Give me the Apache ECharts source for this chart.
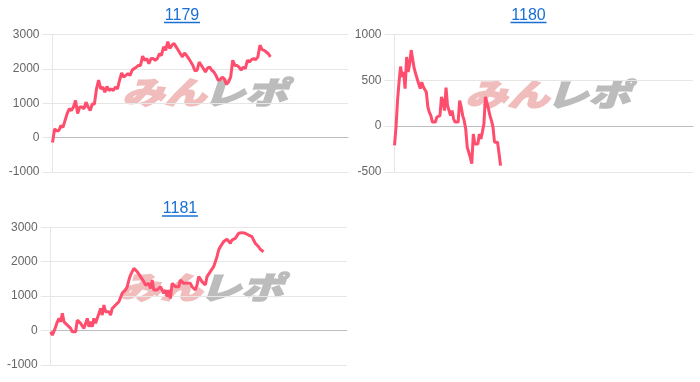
<!DOCTYPE html>
<html>
<head>
<meta charset="utf-8">
<script src="https://cdn.jsdelivr.net/npm/echarts@6/dist/echarts.min.js"></script>
<style>
html,body{margin:0;padding:0;background:#fff;}
#c{width:700px;height:382px;}
</style>
</head>
<body>
<div id="c"></div>
<script>
// ---- data ----
var titles = ['1179', '1180', '1181'];

var values1179 = [-140, 250, 200, 200, 350, 300, 500, 700, 840, 790,
  890, 1080, 700, 890, 890, 840, 1030, 890, 790, 980,
  980, 1420, 1670, 1420, 1470, 1320, 1490, 1370, 1420, 1370,
  1470, 1420, 1670, 1880, 1760, 1810, 1860, 1810, 1960, 2010,
  2050, 2100, 2100, 2370, 2250, 2300, 2150, 2300, 2300, 2250,
  2300, 2440, 2390, 2640, 2540, 2790, 2590, 2690, 2740, 2640,
  2540, 2440, 2350, 2460, 2390, 2300, 2200, 2100, 1940, 1960,
  2200, 2100, 2010, 1910, 2030, 2050, 1960, 1910, 1810, 1670,
  1690, 1760, 1710, 1550, 1620, 1760, 2250, 2100, 2100, 2050,
  1960, 2050, 2010, 2250, 2200, 2270, 2300, 2270, 2350, 2690,
  2560, 2540, 2490, 2440, 2350];

var values1180 = [-210, -10, 280, 480, 650, 540, 590, 410, 755, 590,
  680, 830, 830, 630, 570, 550, 460, 410, 480, 430,
  420, 370, 210, 150, 115, 45, 45, 45, 100, 100,
  115, 320, 260, 170, 420, 225, 170, 115, 170, 80,
  45, 45, 45, 280, 210, 115, 60, -30, -230, -285,
  -340, -410, -85, -195, -175, -195, -85, -140, -65, 25,
  320, 260, 190, 115, 60, -10, -175, -175, -175, -300,
  -430];

var values1181 = [-40, -135, -185, 105, 250, 350, 250, 495, 250, 205,
  155, 105, 60, -40, -85, -40, 300, 250, 205, 155,
  60, 60, 350, 105, 250, 105, 350, 205, 350, 495,
  640, 445, 740, 545, 495, 545, 445, 640, 690, 740,
  690, 835, 785, 1080, 1030, 1175, 1270, 1465, 1610, 1660,
  1805, 1855, 1710, 1660, 1565, 1565, 1420, 1320, 1270, 1370,
  1220, 1465, 1175, 1220, 1175, 1125, 1270, 1175, 1080, 1175,
  980, 1175, 930, 1370, 1420, 1270, 1270, 1270, 1465, 1420,
  1370, 1370, 1370, 1370, 1370, 1270, 1220, 1175, 1320, 1565,
  1515, 1420, 1465, 1320, 1565, 1610, 1710, 1760, 1855, 2000,
  2145, 2340, 2435, 2485, 2585, 2630, 2650, 2630, 2535, 2630,
  2630, 2680, 2730, 2825, 2775, 2845, 2900, 2825, 2845, 2775,
  2775, 2730, 2630, 2535, 2485, 2435, 2360, 2320, 2290];

var yTicks1179 = [-1000, 0, 1000, 2000, 3000];
var yTicks1180 = [-500, 0, 500, 1000];
var yTicks1181 = [-1000, 0, 1000, 2000, 3000];

// ---- layout / style ----
var allValues = [values1179, values1180, values1181];
var allTicks = [yTicks1179, yTicks1180, yTicks1181];
var grids = [
  {left: 52.5, top: 34.5, width: 295.5, height: 137.5},
  {left: 394.5, top: 34.5, width: 298.5, height: 137.5},
  {left: 50.7, top: 227.3, width: 296, height: 137.5}
];
var xMaxes = [141, 197, 178];
var titlePos = [[182, 15.5, 22.5], [528.5, 15.5, 22.5], [180, 208.7, 216]];
var wmPos = [[202, 92], [545, 94], [198, 287]];

var LINE = '#ff4d6d';
var GRIDC = '#e6e6e6';
var BLUE = '#1a6fd4';

var xAxes = [], yAxes = [], series = [], graphics = [];
for (var i = 0; i < 3; i++) {
  var t = allTicks[i];
  xAxes.push({
    gridIndex: i, type: 'value', min: 0, max: xMaxes[i],
    axisLine: {show: true, onZero: true, lineStyle: {color: '#bdbdbd', width: 1}},
    axisTick: {show: false}, axisLabel: {show: false}, splitLine: {show: false}
  });
  yAxes.push({
    gridIndex: i, type: 'value', min: t[0], max: t[t.length - 1], interval: t[1] - t[0],
    axisLine: {show: true, lineStyle: {color: GRIDC}},
    axisTick: {show: true, length: 10, lineStyle: {color: GRIDC}},
    axisLabel: {color: '#666', fontSize: 12, fontFamily: '"Liberation Sans", Arial, sans-serif', margin: 13,
      formatter: function (v) { return String(v); }},
    splitLine: {show: true, lineStyle: {color: GRIDC}}
  });
  series.push({
    type: 'line', xAxisIndex: i, yAxisIndex: i, showSymbol: false, z: 5,
    lineStyle: {color: LINE, width: 3}, itemStyle: {color: LINE},
    data: allValues[i].map(function (v, k) { return [k, v]; })
  });
  var tp = titlePos[i];
  graphics.push({
    type: 'text', z: 10,
    style: {text: titles[i], x: tp[0], y: tp[1], textAlign: 'center', textVerticalAlign: 'middle',
      font: '16px "Liberation Sans", Arial, sans-serif', fill: BLUE}
  });
  graphics.push({
    type: 'line', z: 10,
    shape: {x1: tp[0] - 18, y1: tp[2], x2: tp[0] + 18, y2: tp[2]},
    style: {stroke: BLUE, lineWidth: 1.3}
  });
  var wp = wmPos[i];
  graphics.push({
    type: 'group', x: wp[0], y: wp[1], scaleX: 1.35, z: 0, silent: true,
    children: [
      {type: 'text', z: 0, style: {text: 'みん', x: -59, y: 0, textAlign: 'left', textVerticalAlign: 'middle',
        font: 'italic 900 31px "Noto Sans CJK JP"', fill: '#f1bcbc', stroke: '#f1bcbc', lineWidth: 1.5}},
      {type: 'text', z: 0, style: {text: 'レポ', x: 1, y: 0, textAlign: 'left', textVerticalAlign: 'middle',
        font: 'italic 900 31px "Noto Sans CJK JP"', fill: '#bcbcbc', stroke: '#bcbcbc', lineWidth: 1.5}}
    ]
  });
}

var chart = echarts.init(document.getElementById('c'), null, {renderer: 'canvas'});
chart.setOption({
  animation: false,
  backgroundColor: '#fff',
  grid: grids.map(function (g) { return Object.assign({containLabel: false}, g); }),
  xAxis: xAxes,
  yAxis: yAxes,
  series: series,
  graphic: graphics
});
</script>
</body>
</html>
